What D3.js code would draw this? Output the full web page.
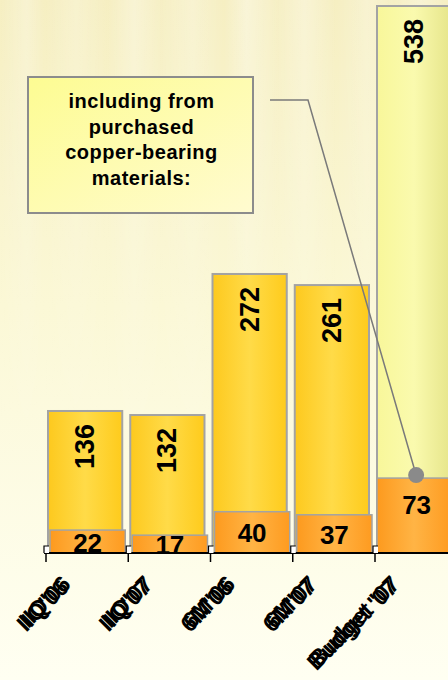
<!DOCTYPE html>
<html>
<head>
<meta charset="utf-8">
<script src="https://cdn.jsdelivr.net/npm/d3@7"></script>
<style>
  html, body { margin: 0; padding: 0; background: #fffef0; }
  #chart { width: 448px; height: 680px; overflow: hidden; }
  text { font-family: "Liberation Sans", Arial, sans-serif; font-weight: bold; }
</style>
</head>
<body>
<div id="chart"></div>
<script>
// chart values
const categories = ["IIQ'06", "IIQ'07", "6M'06", "6M'07", "Budget '07"];
const totals = [136, 132, 272, 261, 538];
const purchased = [22, 17, 40, 37, 73];
const calloutLines = ["including from", "purchased", "copper-bearing", "materials:"];

const width = 448, height = 680;
const baseline = 553;

const svg = d3.select("#chart").append("svg")
  .attr("width", width)
  .attr("height", height);

const defs = svg.append("defs");

// background: pale yellow, darker at top, with faint vertical streaks
const bgV = defs.append("linearGradient").attr("id", "bgV")
  .attr("x1", 0).attr("y1", 0).attr("x2", 0).attr("y2", 1);
bgV.append("stop").attr("offset", "0%").attr("stop-color", "#f6efc2");
bgV.append("stop").attr("offset", "45%").attr("stop-color", "#fbf8d6");
bgV.append("stop").attr("offset", "100%").attr("stop-color", "#fffff2");

const streak = defs.append("linearGradient").attr("id", "streak")
  .attr("x1", 0).attr("y1", 0).attr("x2", 1).attr("y2", 0);
[[0, 0], [0.06, 0.25], [0.1, 0], [0.17, 0.2], [0.24, 0], [0.3, 0.3], [0.36, 0.05],
 [0.43, 0.25], [0.5, 0], [0.55, 0.35], [0.62, 0.05], [0.68, 0.3], [0.75, 0],
 [0.82, 0.25], [0.88, 0.05], [0.94, 0.3], [1, 0]].forEach(([o, a]) => {
  streak.append("stop").attr("offset", o).attr("stop-color", "#ffffff").attr("stop-opacity", a);
});
const fade = defs.append("linearGradient").attr("id", "fade")
  .attr("x1", 0).attr("y1", 0).attr("x2", 0).attr("y2", 1);
fade.append("stop").attr("offset", "0%").attr("stop-color", "#fff").attr("stop-opacity", 1);
fade.append("stop").attr("offset", "70%").attr("stop-color", "#fff").attr("stop-opacity", 0);
const fadeMask = defs.append("mask").attr("id", "fadeMask");
fadeMask.append("rect").attr("width", width).attr("height", height).attr("fill", "url(#fade)");

svg.append("rect").attr("width", width).attr("height", height).attr("fill", "url(#bgV)");
svg.append("rect").attr("width", width).attr("height", height)
  .attr("fill", "url(#streak)").attr("mask", "url(#fadeMask)");

function hGrad(id, edge, mid) {
  const g = defs.append("linearGradient").attr("id", id)
    .attr("x1", 0).attr("y1", 0).attr("x2", 1).attr("y2", 0);
  g.append("stop").attr("offset", "0%").attr("stop-color", edge[0]);
  g.append("stop").attr("offset", "50%").attr("stop-color", mid);
  g.append("stop").attr("offset", "100%").attr("stop-color", edge[1]);
}
hGrad("gold", ["#fdc91e", "#fecb1c"], "#ffdb48");
hGrad("pale", ["#f8f79a", "#e6e58a"], "#fafaae");
hGrad("orange", ["#fd9a1e", "#fe9b20"], "#ffb445");

const boxGrad = defs.append("linearGradient").attr("id", "boxGrad")
  .attr("x1", 0).attr("y1", 0).attr("x2", 1).attr("y2", 1);
boxGrad.append("stop").attr("offset", "0%").attr("stop-color", "#fdfc92");
boxGrad.append("stop").attr("offset", "100%").attr("stop-color", "#fffbd0");

defs.append("clipPath").attr("id", "plotClip")
  .append("rect").attr("x", 0).attr("y", 0).attr("width", width).attr("height", baseline);

// scales
const x = d3.scaleBand()
  .domain(categories)
  .range([46, 46 + 82.25 * categories.length])
  .padding(0);

// totals and the purchased part sit on slightly different value axes in the original
const yTotal = d3.scaleLinear()
  .domain([0, 538])
  .range([548, 6]);

const yPart = d3.scaleLinear()
  .domain([0, 538])
  .range([552.5, 4]);

const rows = categories.map((c, i) => ({ cat: c, total: totals[i], part: purchased[i], last: i === categories.length - 1 }));

const plot = svg.append("g").attr("clip-path", "url(#plotClip)");

// total bars
plot.selectAll("rect.total")
  .data(rows)
  .enter()
  .append("rect")
  .attr("class", "total")
  .attr("x", d => x(d.cat) + 2)
  .attr("y", d => yTotal(d.total))
  .attr("width", x.bandwidth() - 8)
  .attr("height", d => baseline - yTotal(d.total) + 2)
  .attr("fill", d => d.last ? "url(#pale)" : "url(#gold)")
  .attr("stroke", "#a3a3a3")
  .attr("stroke-width", 2);

// purchased-material bars
plot.selectAll("rect.part")
  .data(rows)
  .enter()
  .append("rect")
  .attr("class", "part")
  .attr("x", d => x(d.cat) + (d.last ? 2 : 4))
  .attr("y", d => yPart(d.part))
  .attr("width", d => x.bandwidth() - (d.last ? 8 : 7))
  .attr("height", d => baseline - yPart(d.part) + 2)
  .attr("fill", "url(#orange)")
  .attr("stroke", "#a3a3a3")
  .attr("stroke-width", 1.5);

// labels for totals (vertical, near the top)
plot.selectAll("text.total")
  .data(rows)
  .enter()
  .append("text")
  .attr("class", "total")
  .attr("transform", d => `translate(${x(d.cat) + 2 + (x.bandwidth() - 8) / 2},${yTotal(d.total) + 13}) rotate(-90)`)
  .attr("text-anchor", "end")
  .attr("dominant-baseline", "central")
  .style("font-size", "27px")
  .attr("fill", "#000")
  .text(d => d.total);

// labels for the purchased part: centred, but not lower than ~26px under the top
plot.selectAll("text.part")
  .data(rows)
  .enter()
  .append("text")
  .attr("class", "part")
  .attr("x", d => x(d.cat) + 4 + (x.bandwidth() - 7) / 2)
  .attr("y", d => yPart(d.part) + Math.min((baseline - yPart(d.part)) / 2, 26) + 10)
  .attr("text-anchor", "middle")
  .style("font-size", "26px")
  .attr("fill", "#000")
  .text(d => d.part);

// axis
const axis = svg.append("g");
axis.append("line")
  .attr("x1", 44).attr("x2", width)
  .attr("y1", baseline).attr("y2", baseline)
  .attr("stroke", "#000").attr("stroke-width", 2);

const ticks = axis.selectAll("g.tick")
  .data(categories)
  .enter()
  .append("g")
  .attr("class", "tick")
  .attr("transform", d => `translate(${x(d)},0)`);
ticks.append("rect")
  .attr("x", -2).attr("y", baseline - 7).attr("width", 5).attr("height", 7)
  .attr("fill", "#fff");
ticks.append("path")
  .attr("d", `M-2,${baseline} V${baseline - 7} H3`)
  .attr("fill", "none").attr("stroke", "#000").attr("stroke-width", 1.2);
ticks.append("line")
  .attr("x1", 0).attr("x2", 0)
  .attr("y1", baseline).attr("y2", baseline + 9)
  .attr("stroke", "#000").attr("stroke-width", 1.5);

// rotated category labels, drawn twice with a small offset
[0, 4].forEach(off => {
  ticks.append("text")
    .attr("transform", `translate(24,589) rotate(-45) translate(${off},${off ? -1 : 0})`)
    .attr("text-anchor", "end")
    .style("font-size", "23px")
    .attr("fill", "#000")
    .text(d => d);
});

// callout box
const box = { x: 28, y: 77, w: 225, h: 136 };
svg.append("rect")
  .attr("x", box.x).attr("y", box.y).attr("width", box.w).attr("height", box.h)
  .attr("fill", "url(#boxGrad)")
  .attr("stroke", "#8c8c8c").attr("stroke-width", 2);

svg.append("g").selectAll("text")
  .data(calloutLines)
  .enter()
  .append("text")
  .attr("x", box.x + box.w / 2 + 1)
  .attr("y", (d, i) => box.y + 31 + i * 25.5)
  .attr("text-anchor", "middle")
  .style("font-size", "20px")
  .style("letter-spacing", "0.5px")
  .attr("fill", "#000")
  .text(d => d);

// leader line to the last purchased bar
const last = rows[rows.length - 1];
const dot = { x: x(last.cat) + 2 + (x.bandwidth() - 8) / 2 + 2, y: yPart(last.part) - 3 };
svg.append("path")
  .attr("d", `M${box.x + box.w + 17},${box.y + 23} H${box.x + box.w + 55} L${dot.x},${dot.y}`)
  .attr("fill", "none")
  .attr("stroke", "#7a7a7a")
  .attr("stroke-width", 1.5);
svg.append("circle")
  .attr("cx", dot.x).attr("cy", dot.y).attr("r", 8)
  .attr("fill", "#8a8a8a");
</script>
</body>
</html>
